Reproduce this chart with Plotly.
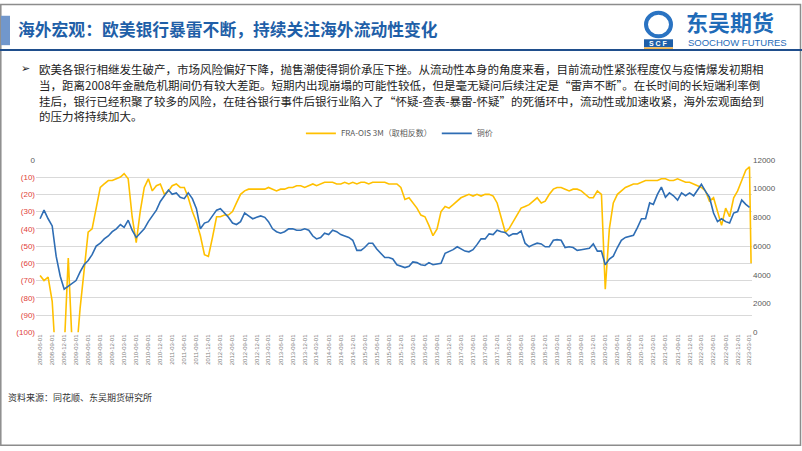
import pandas as pd
import plotly.graph_objects as go

# ---------------- data ----------------
start_month = "2008-06-01"

copper = [
    7900, 8500, 7900, 7400, 5300, 3900, 3000, 3200, 3400, 3600, 4200, 4700,   # 2008-06 .. 2009-05
    5000, 5400, 6000, 6200, 6500, 6700, 7000, 7200, 7500, 7300, 7800, 7100,   # 2009-06 .. 2010-05
    6600, 6900, 7200, 7700, 8100, 8500, 9100, 9500, 9900, 9600, 9700, 9400,   # 2010-06 .. 2011-05
    9300, 9700, 9300, 8600, 7200, 7600, 7700, 8100, 8500, 8600, 8300, 8000,   # 2011-06 .. 2012-05
    7600, 7500, 7700, 8300, 8100, 7900, 8000, 8100, 8000, 7700, 7200, 7000,   # 2012-06 .. 2013-05
    6900, 7000, 7200, 7200, 7100, 7100, 7200, 7100, 6700, 6500, 6600, 6900,   # 2013-06 .. 2014-05
    6800, 7100, 7000, 6800, 6700, 6600, 6400, 5700, 5700, 5900, 6200, 6200,   # 2014-06 .. 2015-05
    5800, 5500, 5200, 5200, 5100, 4700, 4600, 4500, 4600, 4900, 4850, 4700,   # 2015-06 .. 2016-05
    4650, 4850, 4700, 4750, 4800, 5500, 5600, 5750, 5950, 5800, 5650, 5600,   # 2016-06 .. 2017-05
    5750, 6100, 6500, 6500, 6850, 6800, 7100, 7000, 6950, 6700, 6850, 6850,   # 2017-06 .. 2018-05
    7050, 6200, 5950, 6100, 6200, 6150, 5950, 5950, 6400, 6450, 6400, 5900,   # 2018-06 .. 2019-05
    5950, 5900, 5700, 5750, 5800, 5850, 6150, 5650, 5650, 4700, 5100, 5300,   # 2019-06 .. 2020-05
    5900, 6400, 6600, 6700, 6750, 7300, 7900, 7900, 9000, 8900, 9600, 10100,  # 2020-06 .. 2021-05
    9400, 9700, 9500, 9200, 9700, 9500, 9700, 9500, 9900, 10300, 9800, 9400,  # 2021-06 .. 2022-05
    8300, 7700, 7900, 7700, 7600, 8300, 8400, 9200, 8900, 8700,               # 2022-06 .. 2023-03
]

fra_ois = [
    -67, -70, -68, -82, -120, -125, -110, -57, -110, -115, -86, -65,          # 2008-06 .. 2009-05
    -42, -40, -28, -16, -14, -12, -12, -11, -10, -8, -11, -33,                # 2009-06 .. 2010-05
    -48, -30, -16, -11, -18, -15, -14, -20, -18, -15, -14, -16,               # 2010-06 .. 2011-05
    -16, -22, -30, -36, -44, -55, -56, -45, -33, -33, -32, -32,               # 2011-06 .. 2012-05
    -30, -25, -20, -18, -17, -17, -17, -17, -17, -16, -17, -18,               # 2012-06 .. 2013-05
    -17, -17, -16, -16, -15, -15, -16, -15, -14, -15, -14, -13,               # 2013-06 .. 2014-05
    -13, -13, -14, -14, -13, -14, -13, -14, -13, -13, -14, -13,               # 2014-06 .. 2015-05
    -13, -13, -13, -14, -14, -14, -16, -23, -22, -25, -28, -32,               # 2015-06 .. 2016-05
    -33, -38, -44, -40, -30, -27, -28, -26, -24, -22, -21, -20,               # 2016-06 .. 2017-05
    -21, -20, -21, -20, -20, -21, -25, -33, -42, -40, -36, -32,               # 2017-06 .. 2018-05
    -28, -27, -26, -24, -22, -25, -24, -20, -17, -16, -16, -17,               # 2018-06 .. 2019-05
    -18, -17, -17, -18, -20, -22, -22, -18, -20, -75, -40, -25,               # 2019-06 .. 2020-05
    -20, -18, -16, -15, -14, -14, -13, -12, -12, -12, -12, -11,               # 2020-06 .. 2021-05
    -11, -12, -12, -11, -12, -13, -13, -14, -15, -16, -18, -24,               # 2021-06 .. 2022-05
    -22, -30, -38, -28, -33, -22, -18, -12, -6, -4,                           # 2022-06 .. 2023-03
]
fra_tail_dates = ["2023-03-13"]
fra_tail_values = [-60]

left_ticks = [0, -10, -20, -30, -40, -50, -60, -70, -80, -90, -100]
right_ticks = [0, 2000, 4000, 6000, 8000, 10000, 12000]

series_names = ["FRA-OIS 3M（取相反数）", "铜价"]

title_text = "海外宏观：欧美银行暴雷不断，持续关注海外流动性变化"
body_lines = [
    "欧美各银行相继发生破产，市场风险偏好下降，抛售潮使得铜价承压下挫。从流动性本身的角度来看，目前流动性紧张程度仅与疫情爆发初期相",
    "当，距离2008年金融危机期间仍有较大差距。短期内出现崩塌的可能性较低，但是毫无疑问后续注定是“雷声不断”。在长时间的长短端利率倒",
    "挂后，银行已经积聚了较多的风险，在硅谷银行事件后银行业陷入了“怀疑-查表-暴雷-怀疑”的死循环中，流动性或加速收紧，海外宏观面给到",
    "的压力将持续加大。",
]
source_text = "资料来源：同花顺、东吴期货研究所"

# ---------------- build ----------------
W, H = 802, 451
cu_dates = pd.date_range(start_month, periods=len(copper), freq="MS")
fra_dates = list(pd.date_range(start_month, periods=len(fra_ois), freq="MS")) + list(pd.to_datetime(fra_tail_dates))
fra_vals = fra_ois + fra_tail_values

tick_dates = pd.date_range("2008-06-01", "2023-03-01", freq="3MS")
tick_text = [d.strftime("%Y-%m-%d") for d in tick_dates]

def px_x(x):
    return x / W

def px_y(y):
    return 1 - y / H

CJK = "Noto Sans CJK SC"
ORANGE = "#FFC000"
BLUE = "#2E6DB4"

fig = go.Figure()
fig.add_trace(go.Scatter(x=fra_dates, y=fra_vals, name=series_names[0], mode="lines",
                         line=dict(color=ORANGE, width=1.6), yaxis="y"))
fig.add_trace(go.Scatter(x=cu_dates, y=copper, name=series_names[1], mode="lines",
                         line=dict(color=BLUE, width=1.6), yaxis="y2"))

left_text = ["<span style='color:#595959'>0</span>"] + [
    "<span style='color:#E0403A'>(%d)</span>" % (-v) for v in left_ticks[1:]]
right_text = [str(v) for v in right_ticks]

fig.update_layout(
    width=W, height=H,
    margin=dict(l=0, r=0, t=0, b=0),
    paper_bgcolor="white", plot_bgcolor="white",
    font=dict(family=CJK, color="#595959"),
    showlegend=True,
    legend=dict(orientation="h", x=0.498, y=px_y(132), xanchor="center", yanchor="middle",
                font=dict(size=8, color="#595959", family=CJK), itemwidth=30,
                bgcolor="rgba(0,0,0,0)", tracegroupgap=0),
    xaxis=dict(domain=[px_x(36), px_x(752)], type="date",
               range=["2008-05-01", "2023-03-20"],
               tickvals=tick_dates, ticktext=tick_text, tickangle=-90,
               tickfont=dict(size=6, color="#7F7F7F", family="Liberation Sans"),
               showgrid=False, showline=False, zeroline=False, ticks=""),
    yaxis=dict(domain=[px_y(335), px_y(159)], range=[-100, 0],
               tickvals=left_ticks, ticktext=left_text,
               tickfont=dict(size=8, family="Liberation Sans"),
               showgrid=True, gridcolor="#D9D9D9", gridwidth=1,
               zeroline=False, showline=False, ticks=""),
    yaxis2=dict(overlaying="y", side="right", range=[0, 12000],
                tickvals=right_ticks, ticktext=right_text,
                tickfont=dict(size=8, color="#595959", family="Liberation Sans"),
                showgrid=False, zeroline=False, showline=False, ticks=""),
)

shapes = [
    # slide border
    dict(type="rect", xref="paper", yref="paper", x0=px_x(0.8), x1=px_x(800.5), y0=px_y(450.2), y1=px_y(0.5),
         line=dict(color="#8C8C8C", width=1.5), fillcolor="rgba(0,0,0,0)", layer="above"),
    # title accent block
    dict(type="rect", xref="paper", yref="paper", x0=px_x(1), x1=px_x(10), y0=px_y(42), y1=px_y(12),
         line=dict(width=0), fillcolor="#7197CC"),
    # title rule
    dict(type="line", xref="paper", yref="paper", x0=0, x1=1, y0=px_y(47), y1=px_y(47),
         line=dict(color="#1F4E8C", width=2)),
    # logo icon
    dict(type="circle", xref="paper", yref="paper", x0=px_x(646), x1=px_x(671), y0=px_y(33), y1=px_y(9),
         line=dict(color="#2A73C2", width=4), fillcolor="rgba(0,0,0,0)"),
    dict(type="rect", xref="paper", yref="paper", x0=px_x(644), x1=px_x(673), y0=px_y(44), y1=px_y(36),
         line=dict(width=0), fillcolor="#1F5FA8"),
    dict(type="line", xref="paper", yref="paper", x0=px_x(644), x1=px_x(673), y0=px_y(45), y1=px_y(45),
         line=dict(color="#F0A830", width=1.5)),
]
fig.update_layout(shapes=shapes)

ann = []
ann.append(dict(text="<b>%s</b>" % title_text, x=px_x(16), y=px_y(26), xref="paper", yref="paper",
                xanchor="left", yanchor="middle", showarrow=False,
                font=dict(size=16.8, color="#1F5FA8", family=CJK)))
ann.append(dict(text="<b>东吴期货</b>", x=px_x(684), y=px_y(17), xref="paper", yref="paper",
                xanchor="left", yanchor="middle", showarrow=False,
                font=dict(size=22, color="#1F6BB8", family=CJK)))
ann.append(dict(text="SOOCHOW FUTURES", x=px_x(686), y=px_y(39), xref="paper", yref="paper",
                xanchor="left", yanchor="middle", showarrow=False,
                font=dict(size=9.5, color="#1F6BB8", family="Liberation Sans")))
ann.append(dict(text="<b>S C F</b>", x=px_x(658.5), y=px_y(40), xref="paper", yref="paper",
                xanchor="center", yanchor="middle", showarrow=False,
                font=dict(size=7, color="white", family="Liberation Sans")))
ann.append(dict(text="➢", x=px_x(19), y=px_y(66), xref="paper", yref="paper",
                xanchor="left", yanchor="middle", showarrow=False,
                font=dict(size=11, color="#222222", family="DejaVu Sans")))
line_y = [66.5, 82.5, 98.5, 114]
for t, yy in zip(body_lines, line_y):
    ann.append(dict(text=t, x=px_x(37), y=px_y(yy), xref="paper", yref="paper",
                    xanchor="left", yanchor="middle", showarrow=False,
                    font=dict(size=11.5, color="#222222", family=CJK)))
ann.append(dict(text=source_text, x=px_x(6), y=px_y(402), xref="paper", yref="paper",
                xanchor="left", yanchor="middle", showarrow=False,
                font=dict(size=9, color="#333333", family=CJK)))
fig.update_layout(annotations=ann)

fig.write_html("out.html")
